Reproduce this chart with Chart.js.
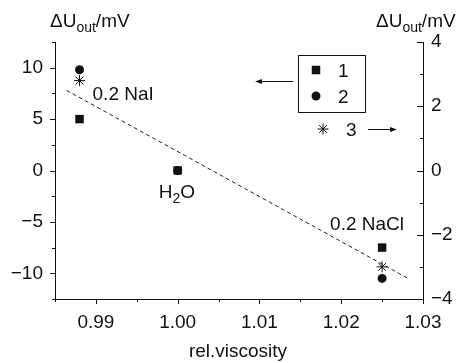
<!DOCTYPE html>
<html>
<head>
<meta charset="utf-8">
<script src="https://cdn.jsdelivr.net/npm/chart.js@4/dist/chart.umd.min.js"></script>
<style>
  html, body { margin: 0; padding: 0; background: #fff; }
</style>
</head>
<body>
<canvas id="viscChart" width="467" height="363"></canvas>
<script>
// relative viscosity of the three solutions
const viscosity = [0.988, 1.000, 1.025];
const sampleNames = ['0.2 NaI', 'H2O', '0.2 NaCl'];
// output voltage change (mV): series 1 and 2 on the left axis, 3 on the right
const dU1 = [5.0, 0.0, -7.5];
const dU2 = [9.8, 0.0, -10.5];
const dU3 = [2.8, null, -3.0];
// dashed trend line, left axis units
const trendX = [0.9864, 1.0283];
const trendY = [7.8, -10.55];

const xTicks = [0.99, 1.00, 1.01, 1.02, 1.03];
const yLeftTicks = [-10, -5, 0, 5, 10];
const yRightTicks = [-4, -2, 0, 2, 4];

const ink = '#111';
const FONT = '"Liberation Sans", Arial, sans-serif';

const isMajor = (list, v) => list.some(t => Math.abs(t - v) < 1e-6);
const minus = s => String(s).replace('-', '\u2212');

function pts(xs, ys) {
    return xs.map((x, i) => ({ x, y: ys[i] }));
}

function drawDeltaU(ctx, x, y) {
    ctx.textAlign = 'left';
    ctx.textBaseline = 'alphabetic';
    ctx.font = '19px ' + FONT;
    ctx.fillText('\u0394U', x, y);
    let w = ctx.measureText('\u0394U').width;
    ctx.font = '14px ' + FONT;
    ctx.fillText('out', x + w, y + 5);
    w += ctx.measureText('out').width;
    ctx.font = '19px ' + FONT;
    ctx.fillText('/mV', x + w, y);
}

function arrow(ctx, x1, x2, y) {
    const dir = Math.sign(x2 - x1);
    ctx.beginPath();
    ctx.moveTo(x1, y + 0.5);
    ctx.lineTo(x2 - dir * 5, y + 0.5);
    ctx.stroke();
    ctx.beginPath();
    ctx.moveTo(x2, y + 0.5);
    ctx.lineTo(x2 - dir * 7, y - 2);
    ctx.lineTo(x2 - dir * 7, y + 3);
    ctx.closePath();
    ctx.fill();
}

function marker(ctx, style, x, y) {
    ctx.beginPath();
    if (style === 'rect') {
        ctx.fillRect(x - 4.25, y - 4.25, 8.5, 8.5);
    } else if (style === 'circle') {
        ctx.arc(x, y, 4.5, 0, Math.PI * 2);
        ctx.fill();
    } else {
        const r = 5.5;
        for (let a = 0; a < 4; a++) {
            const t = a * Math.PI / 4;
            ctx.moveTo(x - Math.cos(t) * r, y - Math.sin(t) * r);
            ctx.lineTo(x + Math.cos(t) * r, y + Math.sin(t) * r);
        }
        ctx.stroke();
    }
}

// tick marks (major/minor), axis titles, legend box and sample labels
const decorations = {
    id: 'decorations',
    afterDraw(chart) {
        const ctx = chart.ctx;
        const { x, y, y2 } = chart.scales;
        ctx.save();
        ctx.strokeStyle = ink;
        ctx.fillStyle = ink;
        ctx.lineWidth = 1;

        ctx.beginPath();
        x.ticks.forEach(t => {
            const px = Math.round(x.getPixelForValue(t.value)) + 0.5;
            const len = isMajor(xTicks, t.value) ? 5 : 3;
            ctx.moveTo(px, x.top);
            ctx.lineTo(px, x.top + len);
        });
        y.ticks.forEach(t => {
            const py = Math.round(y.getPixelForValue(t.value)) + 0.5;
            const len = isMajor(yLeftTicks, t.value) ? 5 : 3;
            ctx.moveTo(y.right + 1, py);
            ctx.lineTo(y.right - len, py);
        });
        y2.ticks.forEach(t => {
            const py = Math.round(y2.getPixelForValue(t.value)) + 0.5;
            const len = isMajor(yRightTicks, t.value) ? 6 : 3;
            ctx.moveTo(y2.left, py);
            ctx.lineTo(y2.left - len, py);
        });
        ctx.stroke();

        drawDeltaU(ctx, 50, 27);
        drawDeltaU(ctx, 376, 27);

        ctx.font = '19px ' + FONT;
        ctx.textAlign = 'center';
        ctx.fillText('rel.viscosity', 238, 357);

        // sample labels, placed next to the square markers
        ctx.textAlign = 'left';
        const sx = i => x.getPixelForValue(viscosity[i]);
        const sy = i => y.getPixelForValue(dU1[i]);
        ctx.fillText(sampleNames[0], sx(0) + 13, sy(0) - 19);
        ctx.fillText(sampleNames[2], sx(2) - 52, sy(2) - 18);
        const hx = sx(1) - 19, hy = sy(1) + 27;
        ctx.fillText('H', hx, hy);
        let w = ctx.measureText('H').width;
        ctx.font = '14px ' + FONT;
        ctx.fillText('2', hx + w, hy + 5);
        w += ctx.measureText('2').width;
        ctx.font = '19px ' + FONT;
        ctx.fillText('O', hx + w, hy);

        // legend
        ctx.strokeRect(298.5, 55.5, 67, 57);
        marker(ctx, 'rect', 316, 70);
        marker(ctx, 'circle', 316, 96);
        marker(ctx, 'star', 323, 129);
        ctx.fillText('1', 338, 77);
        ctx.fillText('2', 338, 103);
        ctx.fillText('3', 346, 136);
        arrow(ctx, 293, 255, 81);
        arrow(ctx, 368, 397, 129);
        ctx.restore();
    }
};

const tickFont = { family: FONT, size: 19 };

new Chart(document.getElementById('viscChart').getContext('2d'), {
    type: 'scatter',
    data: {
        datasets: [
            {
                label: '1', data: pts(viscosity, dU1), yAxisID: 'y',
                pointStyle: 'rect', pointRadius: 6, borderWidth: 0,
                backgroundColor: ink, borderColor: ink
            },
            {
                label: '2', data: pts(viscosity, dU2), yAxisID: 'y',
                pointStyle: 'circle', pointRadius: 4.5, borderWidth: 0,
                backgroundColor: ink, borderColor: ink
            },
            {
                label: '3', data: pts(viscosity, dU3), yAxisID: 'y2',
                pointStyle: 'star', pointRadius: 5.5, borderWidth: 1,
                backgroundColor: ink, borderColor: ink
            },
            {
                type: 'line', label: 'trend', data: pts(trendX, trendY), yAxisID: 'y',
                showLine: true, borderDash: [4, 3], borderWidth: 1,
                pointRadius: 0, borderColor: '#222', fill: false
            }
        ]
    },
    options: {
        responsive: false,
        animation: false,
        devicePixelRatio: 1,
        layout: { padding: { top: 42, left: 0, right: 0, bottom: 0 } },
        plugins: { legend: { display: false }, tooltip: { enabled: false } },
        scales: {
            x: {
                type: 'linear', min: 0.985, max: 1.03,
                grid: { display: false, drawTicks: false },
                border: { color: ink, width: 1 },
                ticks: {
                    stepSize: 0.005, autoSkip: false, maxRotation: 0,
                    padding: 12, color: ink, font: tickFont,
                    callback: v => isMajor(xTicks, v) ? v.toFixed(2) : ''
                },
                afterFit: s => { s.height = 64; }
            },
            y: {
                position: 'left', min: -12.5, max: 12.5,
                grid: { display: false, drawTicks: false },
                border: { color: ink, width: 1 },
                ticks: {
                    stepSize: 2.5, autoSkip: false, padding: 12, color: ink, font: tickFont,
                    callback: v => isMajor(yLeftTicks, v) ? minus(Math.round(v)) : ''
                },
                afterFit: s => { s.width = 55; }
            },
            y2: {
                position: 'right', min: -4, max: 4,
                grid: { display: false, drawTicks: false },
                border: { color: ink, width: 1 },
                ticks: {
                    stepSize: 1, autoSkip: false, padding: 8, color: ink, font: tickFont,
                    callback: v => isMajor(yRightTicks, v) ? minus(Math.round(v)) : ''
                },
                afterFit: s => { s.width = 44; }
            }
        }
    },
    plugins: [decorations]
});
</script>
</body>
</html>
